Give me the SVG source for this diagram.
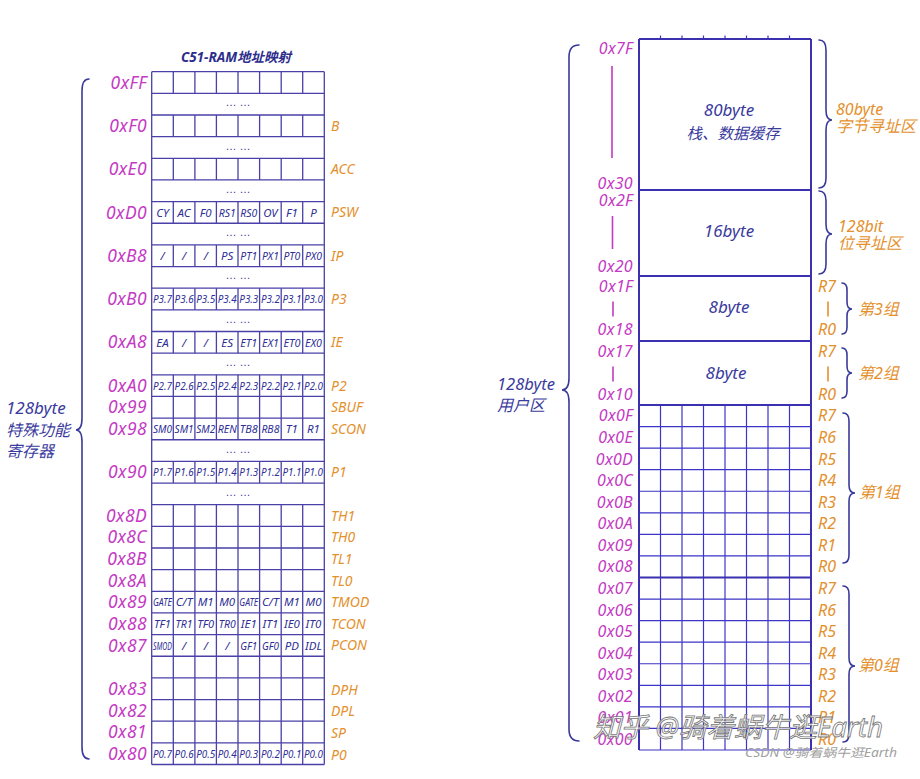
<svg xmlns="http://www.w3.org/2000/svg" xmlns:xlink="http://www.w3.org/1999/xlink" width="920" height="779" viewBox="0 0 920 779">
<style>
text{font-family:"Noto Sans","Noto Sans CJK SC",sans-serif;font-style:italic}
.ad{fill:#c43ac4;font-size:17.5px;letter-spacing:0.4px;text-anchor:end}
.ad2{fill:#c43ac4;font-size:16px;letter-spacing:0.3px;text-anchor:end}
.nm{fill:#e4902c;font-size:14px}
.rr{fill:#e4902c;font-size:16px}
.cl{fill:#2e2e96;font-size:11.5px;text-anchor:middle}
.dt{font-family:"Liberation Sans",sans-serif;font-style:normal;fill:#3b3b9e;font-size:11px;text-anchor:middle}
.bl{fill:#3b3b9e}
.tl{stroke:#4a40a8;stroke-width:1.3;fill:none}
.gl{stroke:#3d35c8;stroke-width:1.2;fill:none}
.bk{stroke:#3a30b0;stroke-width:2;fill:none}
.br{stroke:#3a3a9a;stroke-width:1.6;fill:none;stroke-linecap:round}
.mg{stroke:#c43ac4;stroke-width:1.6}
.og{stroke:#e4902c;stroke-width:1.6}
</style>
<defs>
<path id="v8" class="tl" vector-effect="non-scaling-stroke" d="M173.3 0v21.65M194.9 0v21.65M216.4 0v21.65M238 0v21.65M259.6 0v21.65M281.2 0v21.65M302.7 0v21.65"/>
</defs>
<rect width="920" height="779" fill="#fff"/>

<g id="sfr-table">
<text x="236" y="62" text-anchor="middle" font-size="13.5" font-weight="bold" fill="#2d2d8c">C51-RAM地址映射</text>
<path class="tl" d="M151.7 71.7H324.3M151.7 93.35H324.3M151.7 115H324.3M151.7 136.65H324.3M151.7 158.3H324.3M151.7 179.95H324.3M151.7 201.6H324.3M151.7 223.25H324.3M151.7 244.9H324.3M151.7 266.55H324.3M151.7 288.2H324.3M151.7 309.85H324.3M151.7 331.5H324.3M151.7 353.15H324.3M151.7 374.8H324.3M151.7 396.45H324.3M151.7 418.1H324.3M151.7 439.75H324.3M151.7 461.4H324.3M151.7 483.05H324.3M151.7 504.7H324.3M151.7 526.35H324.3M151.7 548H324.3M151.7 569.65H324.3M151.7 591.3H324.3M151.7 612.95H324.3M151.7 634.6H324.3M151.7 656.25H324.3M151.7 677.9H324.3M151.7 699.55H324.3M151.7 721.2H324.3M151.7 742.85H324.3M151.7 764.5H324.3M151.7 71.7V764.5M324.3 71.7V764.5"/>
<use xlink:href="#v8" transform="translate(0,71.7)"/>
<use xlink:href="#v8" transform="translate(0,115)"/>
<use xlink:href="#v8" transform="translate(0,158.3)"/>
<use xlink:href="#v8" transform="translate(0,201.6)"/>
<use xlink:href="#v8" transform="translate(0,244.9)"/>
<use xlink:href="#v8" transform="translate(0,288.2)"/>
<use xlink:href="#v8" transform="translate(0,331.5)"/>
<use xlink:href="#v8" transform="translate(0,374.8) scale(1,3)"/>
<use xlink:href="#v8" transform="translate(0,461.4)"/>
<use xlink:href="#v8" transform="translate(0,504.7) scale(1,12)"/>

<text class="dt" x="238" y="106.2">… …</text>
<text class="dt" x="238" y="149.5">… …</text>
<text class="dt" x="238" y="192.8">… …</text>
<text class="dt" x="238" y="236.1">… …</text>
<text class="dt" x="238" y="279.4">… …</text>
<text class="dt" x="238" y="322.7">… …</text>
<text class="dt" x="238" y="366">… …</text>
<text class="dt" x="238" y="452.6">… …</text>
<text class="dt" x="238" y="495.9">… …</text>

<text class="ad" x="147" y="88.6">0xFF</text>
<text class="ad" x="147" y="131.9">0xF0</text>
<text class="ad" x="147" y="175.2">0xE0</text>
<text class="ad" x="147" y="218.5">0xD0</text>
<text class="ad" x="147" y="261.8">0xB8</text>
<text class="ad" x="147" y="305.1">0xB0</text>
<text class="ad" x="147" y="348.4">0xA8</text>
<text class="ad" x="147" y="391.7">0xA0</text>
<text class="ad" x="147" y="413.4">0x99</text>
<text class="ad" x="147" y="435">0x98</text>
<text class="ad" x="147" y="478.3">0x90</text>
<text class="ad" x="147" y="521.6">0x8D</text>
<text class="ad" x="147" y="543.3">0x8C</text>
<text class="ad" x="147" y="564.9">0x8B</text>
<text class="ad" x="147" y="586.6">0x8A</text>
<text class="ad" x="147" y="608.2">0x89</text>
<text class="ad" x="147" y="629.9">0x88</text>
<text class="ad" x="147" y="651.5">0x87</text>
<text class="ad" x="147" y="694.8">0x83</text>
<text class="ad" x="147" y="716.5">0x82</text>
<text class="ad" x="147" y="738.1">0x81</text>
<text class="ad" x="147" y="759.8">0x80</text>

<text class="nm" x="331" y="130.8">B</text>
<text class="nm" x="331" y="174.1">ACC</text>
<text class="nm" x="331" y="217.4">PSW</text>
<text class="nm" x="331" y="260.7">IP</text>
<text class="nm" x="331" y="304">P3</text>
<text class="nm" x="331" y="347.3">IE</text>
<text class="nm" x="331" y="390.6">P2</text>
<text class="nm" x="331" y="412.3">SBUF</text>
<text class="nm" x="331" y="433.9">SCON</text>
<text class="nm" x="331" y="477.2">P1</text>
<text class="nm" x="331" y="520.5">TH1</text>
<text class="nm" x="331" y="542.2">TH0</text>
<text class="nm" x="331" y="563.8">TL1</text>
<text class="nm" x="331" y="585.5">TL0</text>
<text class="nm" x="331" y="607.1">TMOD</text>
<text class="nm" x="331" y="628.8">TCON</text>
<text class="nm" x="331" y="650.4">PCON</text>
<text class="nm" x="331" y="694.7">DPH</text>
<text class="nm" x="331" y="716.4">DPL</text>
<text class="nm" x="331" y="738">SP</text>
<text class="nm" x="331" y="759.7">P0</text>

<g class="cl">
<text x="162.5" y="216.6">CY</text><text x="184.1" y="216.6">AC</text><text x="205.7" y="216.6">F0</text><text x="227.2" y="216.6" textLength="17" lengthAdjust="spacingAndGlyphs">RS1</text><text x="248.8" y="216.6" textLength="17" lengthAdjust="spacingAndGlyphs">RS0</text><text x="270.4" y="216.6">OV</text><text x="291.9" y="216.6">F1</text><text x="313.5" y="216.6">P</text>
<text x="162.5" y="259.9">/</text><text x="184.1" y="259.9">/</text><text x="205.7" y="259.9">/</text><text x="227.2" y="259.9">PS</text><text x="248.8" y="259.9" textLength="17" lengthAdjust="spacingAndGlyphs">PT1</text><text x="270.4" y="259.9" textLength="17" lengthAdjust="spacingAndGlyphs">PX1</text><text x="291.9" y="259.9" textLength="17" lengthAdjust="spacingAndGlyphs">PT0</text><text x="313.5" y="259.9" textLength="17" lengthAdjust="spacingAndGlyphs">PX0</text>
<text x="162.5" y="303.2" textLength="19" lengthAdjust="spacingAndGlyphs">P3.7</text><text x="184.1" y="303.2" textLength="19" lengthAdjust="spacingAndGlyphs">P3.6</text><text x="205.7" y="303.2" textLength="19" lengthAdjust="spacingAndGlyphs">P3.5</text><text x="227.2" y="303.2" textLength="19" lengthAdjust="spacingAndGlyphs">P3.4</text><text x="248.8" y="303.2" textLength="19" lengthAdjust="spacingAndGlyphs">P3.3</text><text x="270.4" y="303.2" textLength="19" lengthAdjust="spacingAndGlyphs">P3.2</text><text x="291.9" y="303.2" textLength="19" lengthAdjust="spacingAndGlyphs">P3.1</text><text x="313.5" y="303.2" textLength="19" lengthAdjust="spacingAndGlyphs">P3.0</text>
<text x="162.5" y="346.5">EA</text><text x="184.1" y="346.5">/</text><text x="205.7" y="346.5">/</text><text x="227.2" y="346.5">ES</text><text x="248.8" y="346.5" textLength="17" lengthAdjust="spacingAndGlyphs">ET1</text><text x="270.4" y="346.5" textLength="17" lengthAdjust="spacingAndGlyphs">EX1</text><text x="291.9" y="346.5" textLength="17" lengthAdjust="spacingAndGlyphs">ET0</text><text x="313.5" y="346.5" textLength="17" lengthAdjust="spacingAndGlyphs">EX0</text>
<text x="162.5" y="389.8" textLength="19" lengthAdjust="spacingAndGlyphs">P2.7</text><text x="184.1" y="389.8" textLength="19" lengthAdjust="spacingAndGlyphs">P2.6</text><text x="205.7" y="389.8" textLength="19" lengthAdjust="spacingAndGlyphs">P2.5</text><text x="227.2" y="389.8" textLength="19" lengthAdjust="spacingAndGlyphs">P2.4</text><text x="248.8" y="389.8" textLength="19" lengthAdjust="spacingAndGlyphs">P2.3</text><text x="270.4" y="389.8" textLength="19" lengthAdjust="spacingAndGlyphs">P2.2</text><text x="291.9" y="389.8" textLength="19" lengthAdjust="spacingAndGlyphs">P2.1</text><text x="313.5" y="389.8" textLength="19" lengthAdjust="spacingAndGlyphs">P2.0</text>
<text x="162.5" y="433.1" textLength="19" lengthAdjust="spacingAndGlyphs">SM0</text><text x="184.1" y="433.1" textLength="19" lengthAdjust="spacingAndGlyphs">SM1</text><text x="205.7" y="433.1" textLength="19" lengthAdjust="spacingAndGlyphs">SM2</text><text x="227.2" y="433.1" textLength="19" lengthAdjust="spacingAndGlyphs">REN</text><text x="248.8" y="433.1" textLength="18" lengthAdjust="spacingAndGlyphs">TB8</text><text x="270.4" y="433.1" textLength="18" lengthAdjust="spacingAndGlyphs">RB8</text><text x="291.9" y="433.1">T1</text><text x="313.5" y="433.1">R1</text>
<text x="162.5" y="476.4" textLength="19" lengthAdjust="spacingAndGlyphs">P1.7</text><text x="184.1" y="476.4" textLength="19" lengthAdjust="spacingAndGlyphs">P1.6</text><text x="205.7" y="476.4" textLength="19" lengthAdjust="spacingAndGlyphs">P1.5</text><text x="227.2" y="476.4" textLength="19" lengthAdjust="spacingAndGlyphs">P1.4</text><text x="248.8" y="476.4" textLength="19" lengthAdjust="spacingAndGlyphs">P1.3</text><text x="270.4" y="476.4" textLength="19" lengthAdjust="spacingAndGlyphs">P1.2</text><text x="291.9" y="476.4" textLength="19" lengthAdjust="spacingAndGlyphs">P1.1</text><text x="313.5" y="476.4" textLength="19" lengthAdjust="spacingAndGlyphs">P1.0</text>
<text x="162.5" y="606.3" font-size="10.5" textLength="19" lengthAdjust="spacingAndGlyphs">GATE</text><text x="184.1" y="606.3">C/T</text><text x="205.7" y="606.3">M1</text><text x="227.2" y="606.3">M0</text><text x="248.8" y="606.3" font-size="10.5" textLength="19" lengthAdjust="spacingAndGlyphs">GATE</text><text x="270.4" y="606.3">C/T</text><text x="291.9" y="606.3">M1</text><text x="313.5" y="606.3">M0</text>
<text x="162.5" y="628" textLength="17" lengthAdjust="spacingAndGlyphs">TF1</text><text x="184.1" y="628" textLength="17" lengthAdjust="spacingAndGlyphs">TR1</text><text x="205.7" y="628" textLength="17" lengthAdjust="spacingAndGlyphs">TF0</text><text x="227.2" y="628" textLength="17" lengthAdjust="spacingAndGlyphs">TR0</text><text x="248.8" y="628">IE1</text><text x="270.4" y="628">IT1</text><text x="291.9" y="628">IE0</text><text x="313.5" y="628">IT0</text>
<text x="162.5" y="649.6" font-size="10.5" textLength="19" lengthAdjust="spacingAndGlyphs">SMOD</text><text x="184.1" y="649.6">/</text><text x="205.7" y="649.6">/</text><text x="227.2" y="649.6">/</text><text x="248.8" y="649.6" textLength="17" lengthAdjust="spacingAndGlyphs">GF1</text><text x="270.4" y="649.6" textLength="17" lengthAdjust="spacingAndGlyphs">GF0</text><text x="291.9" y="649.6">PD</text><text x="313.5" y="649.6">IDL</text>
<text x="162.5" y="757.9" textLength="19" lengthAdjust="spacingAndGlyphs">P0.7</text><text x="184.1" y="757.9" textLength="19" lengthAdjust="spacingAndGlyphs">P0.6</text><text x="205.7" y="757.9" textLength="19" lengthAdjust="spacingAndGlyphs">P0.5</text><text x="227.2" y="757.9" textLength="19" lengthAdjust="spacingAndGlyphs">P0.4</text><text x="248.8" y="757.9" textLength="19" lengthAdjust="spacingAndGlyphs">P0.3</text><text x="270.4" y="757.9" textLength="19" lengthAdjust="spacingAndGlyphs">P0.2</text><text x="291.9" y="757.9" textLength="19" lengthAdjust="spacingAndGlyphs">P0.1</text><text x="313.5" y="757.9" textLength="19" lengthAdjust="spacingAndGlyphs">P0.0</text>
</g>
</g>

<g id="sfr-label">
<text class="bl" x="6" y="414" font-size="17">128byte</text>
<text class="bl" x="6" y="436" font-size="16">特殊功能</text>
<text class="bl" x="6" y="457" font-size="16">寄存器</text>
</g>

<g id="user-ram">
<path class="gl" d="M660.5 405V750M682 405V750M703.5 405V750M725 405V750M746.5 405V750M768 405V750M789.5 405V750M639 426.56H811M639 448.13H811M639 469.69H811M639 491.25H811M639 512.81H811M639 534.38H811M639 555.94H811M639 599.06H811M639 620.63H811M639 642.19H811M639 663.75H811M639 685.31H811M639 706.88H811M639 728.44H811M639 750H811"/>
<path class="gl" d="M660.5 35.5V39M682 35.5V39M703.5 35.5V39M725 35.5V39M746.5 35.5V39M768 35.5V39M789.5 35.5V39"/>
<path class="bk" d="M639 39H811M639 190H811M639 276H811M639 341H811M639 405H811M639 577.5H811M639 39V750M811 39V750"/>
<text class="bl" x="729" y="115.5" font-size="17" text-anchor="middle">80byte</text>
<text class="bl" x="733" y="138.5" font-size="15.5" text-anchor="middle">栈、数据缓存</text>
<text class="bl" x="729" y="236.5" font-size="17" text-anchor="middle">16byte</text>
<text class="bl" x="729" y="312.5" font-size="17" text-anchor="middle">8byte</text>
<text class="bl" x="726" y="378.5" font-size="17" text-anchor="middle">8byte</text>

<text class="ad2" x="633" y="54">0x7F</text>
<line class="mg" x1="612" y1="66" x2="612" y2="158"/>
<text class="ad2" x="633" y="189">0x30</text>
<text class="ad2" x="633" y="205.6">0x2F</text>
<line class="mg" x1="612.5" y1="216" x2="612.5" y2="249"/>
<text class="ad2" x="633" y="271.6">0x20</text>
<text class="ad2" x="633" y="292.3">0x1F</text>
<line class="mg" x1="613" y1="301.5" x2="613" y2="316.5"/>
<text class="ad2" x="633" y="334.9">0x18</text>
<text class="ad2" x="633" y="357.3">0x17</text>
<line class="mg" x1="613" y1="366.5" x2="613" y2="381.5"/>
<text class="ad2" x="633" y="399.9">0x10</text>
<text class="ad2" x="633" y="421.4">0x0F</text>
<text class="ad2" x="633" y="442.9">0x0E</text>
<text class="ad2" x="633" y="464.5">0x0D</text>
<text class="ad2" x="633" y="486.1">0x0C</text>
<text class="ad2" x="633" y="507.6">0x0B</text>
<text class="ad2" x="633" y="529.2">0x0A</text>
<text class="ad2" x="633" y="550.8">0x09</text>
<text class="ad2" x="633" y="572.3">0x08</text>
<text class="ad2" x="633" y="593.9">0x07</text>
<text class="ad2" x="633" y="615.5">0x06</text>
<text class="ad2" x="633" y="637">0x05</text>
<text class="ad2" x="633" y="658.6">0x04</text>
<text class="ad2" x="633" y="680.1">0x03</text>
<text class="ad2" x="633" y="701.7">0x02</text>
<text class="ad2" x="633" y="723.3">0x01</text>
<text class="ad2" x="633" y="744.8">0x00</text>

<text class="rr" x="818" y="292.3">R7</text>
<line class="og" x1="828" y1="301.5" x2="828" y2="316.5"/>
<text class="rr" x="818" y="334.9">R0</text>
<text class="rr" x="818" y="357.3">R7</text>
<line class="og" x1="828" y1="366.5" x2="828" y2="381.5"/>
<text class="rr" x="818" y="399.9">R0</text>
<text class="rr" x="818" y="421.4">R7</text>
<text class="rr" x="818" y="442.9">R6</text>
<text class="rr" x="818" y="464.5">R5</text>
<text class="rr" x="818" y="486.1">R4</text>
<text class="rr" x="818" y="507.6">R3</text>
<text class="rr" x="818" y="529.2">R2</text>
<text class="rr" x="818" y="550.8">R1</text>
<text class="rr" x="818" y="572.3">R0</text>
<text class="rr" x="818" y="593.9">R7</text>
<text class="rr" x="818" y="615.5">R6</text>
<text class="rr" x="818" y="637">R5</text>
<text class="rr" x="818" y="658.6">R4</text>
<text class="rr" x="818" y="680.1">R3</text>
<text class="rr" x="818" y="701.7">R2</text>
<text class="rr" x="818" y="723.3">R1</text>
<text class="rr" x="818" y="744.8">R0</text>

<text class="rr" x="836" y="115" font-size="17.5">80byte</text>
<text class="rr" x="836" y="131.5" font-size="12.6">字节寻址区</text>
<text class="rr" x="838" y="231.5" font-size="17.5">128bit</text>
<text class="rr" x="838" y="248.5" font-size="15.5">位寻址区</text>
<text class="rr" x="858" y="315.2" font-size="15">第3组</text>
<text class="rr" x="858" y="379.2" font-size="15">第2组</text>
<text class="rr" x="859" y="498.4" font-size="15">第1组</text>
<text class="rr" x="858" y="671.2" font-size="15">第0组</text>
</g>

<g id="user-label">
<text class="bl" x="497" y="389.7" font-size="16.5">128byte</text>
<text class="bl" x="497" y="411" font-size="16">用户区</text>
</g>

<g id="connectors">
<path class="br" d="M89 79Q82 79 82 91V418Q82 430 76 430Q82 430 82 442V747Q82 759 89 759"/>
<path class="br" d="M579 45Q569 45 569 57V378Q569 390 562 390Q569 390 569 402V729Q569 741 579 741"/>
<path class="br" d="M819 40Q826 40 826 50V110Q826 120 832 120Q826 120 826 130V178Q826 188 819 188"/>
<path class="br" d="M819 191Q826 191 826 201V224Q826 234 832 234Q826 234 826 244V264Q826 274 819 274"/>
<path class="br" d="M842 283Q847 283 847 290V302Q847 309 852 309Q847 309 847 316V327Q847 334 842 334"/>
<path class="br" d="M842 348Q847 348 847 355V366Q847 373 852 373Q847 373 847 380V391Q847 398 842 398"/>
<path class="br" d="M843 413Q849 413 849 421V485Q849 493 855 493Q849 493 849 501V555Q849 563 843 563"/>
<path class="br" d="M843 586Q849 586 849 594V658Q849 666 855 666Q849 666 849 674V734Q849 742 843 742"/>
</g>

<g id="watermark">
<text x="593" y="737" font-size="27" font-style="normal" fill="#ffffff" fill-opacity="0.75" stroke="#777" stroke-width="0.8" textLength="290" lengthAdjust="spacingAndGlyphs">知乎 @骑着蜗牛逛Earth</text>
<text x="745" y="757" font-size="12" font-style="normal" fill="#a0a0a0" textLength="152" lengthAdjust="spacingAndGlyphs">CSDN @骑着蜗牛逛Earth</text>
</g>
</svg>
